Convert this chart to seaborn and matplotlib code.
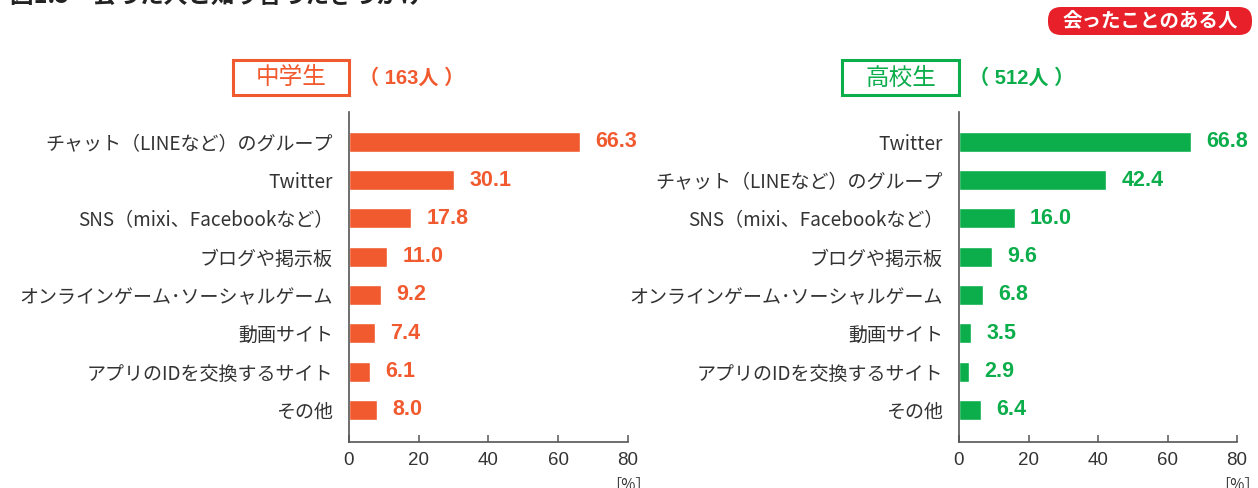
import matplotlib
matplotlib.use("Agg")
import matplotlib.pyplot as plt
from matplotlib.patches import FancyBboxPatch, Rectangle
import seaborn as sns
import pandas as pd

# ---- data ----
jh_categories = ["チャット（LINEなど）のグループ", "Twitter", "SNS（mixi、Facebookなど）", "ブログや掲示板",
                 "オンラインゲーム･ソーシャルゲーム", "動画サイト", "アプリのIDを交換するサイト", "その他"]
jh_values = [66.3, 30.1, 17.8, 11.0, 9.2, 7.4, 6.1, 8.0]
hs_categories = ["Twitter", "チャット（LINEなど）のグループ", "SNS（mixi、Facebookなど）", "ブログや掲示板",
                 "オンラインゲーム･ソーシャルゲーム", "動画サイト", "アプリのIDを交換するサイト", "その他"]
hs_values = [66.8, 42.4, 16.0, 9.6, 6.8, 3.5, 2.9, 6.4]
x_ticks = [0, 20, 40, 60, 80]
groups = ["中学生", "高校生"]
group_counts = ["（ 163人 ）", "（ 512人 ）"]
badge_text = "会ったことのある人"
title_text = "図1.5　会った人と知り合ったきっかけ"

ORANGE = "#F15A2F"
GREEN = "#0CAD4B"
RED = "#E8202A"
TXT = "#333333"
NUMFONT = ["Liberation Sans", "Noto Sans CJK JP", "DejaVu Sans"]

sns.set_theme(style="white")
plt.rcParams["font.family"] = ["Noto Sans CJK JP", "DejaVu Sans"]

fig = plt.figure(figsize=(12.58, 4.88), dpi=100)
W, H = 1258, 488

# overlay in pixel coordinates for decorations
ov = fig.add_axes([0, 0, 1, 1], zorder=-1)
ov.set_xlim(0, W)
ov.set_ylim(H, 0)
ov.axis("off")

def axes_rect(x0, x1, ytop, ybot):
    return [x0 / W, (H - ybot) / H, (x1 - x0) / W, (ybot - ytop) / H]

panels = [
    (axes_rect(349, 628, 112, 442), jh_categories, jh_values, ORANGE, groups[0], group_counts[0], (233, 349)),
    (axes_rect(959, 1237, 112, 442), hs_categories, hs_values, GREEN, groups[1], group_counts[1], (842, 959)),
]

for rect, cats, vals, col, gname, gcount, (bx0, bx1) in panels:
    ax = fig.add_axes(rect)
    df = pd.DataFrame({"cat": cats, "val": vals})
    sns.barplot(data=df, y="cat", x="val", orient="h", color=col, saturation=1,
                width=0.52, ax=ax)
    ax.set_xlim(0, 80)
    ax.set_ylim(7.84, -0.78)
    ax.set_xticks(x_ticks)
    ax.set_xticklabels([str(t) for t in x_ticks], family=NUMFONT)
    ax.set_xlabel("")
    ax.set_ylabel("")
    for s in ["top", "right"]:
        ax.spines[s].set_visible(False)
    for s in ["left", "bottom"]:
        ax.spines[s].set_color("#555555")
        ax.spines[s].set_linewidth(1.2)
    ax.tick_params(axis="x", direction="in", length=5, width=1.1, color="#555555",
                   labelsize=13.5, labelcolor=TXT, pad=7, bottom=True)
    ax.tick_params(axis="y", length=0, labelsize=13.7, labelcolor=TXT, pad=11.5)
    for i, v in enumerate(vals):
        ax.annotate(f"{v:.1f}", xy=(v, i), xytext=(11, 0), textcoords="offset points",
                    ha="left", va="center", fontsize=15.5, fontweight="bold", color=col,
                    family=NUMFONT, annotation_clip=False)
    # [%] unit label
    ax.annotate("［%］", xy=(80, 0), xycoords=("data", "axes fraction"), xytext=(0, -31),
                textcoords="offset points", ha="center", va="center", fontsize=11,
                color=TXT, annotation_clip=False)
    # group box
    ov.add_patch(Rectangle((bx0, 60), bx1 - bx0, 35, fill=False, edgecolor=col, linewidth=2.2))
    ov.text((bx0 + bx1) / 2, 78, gname, ha="center", va="center", fontsize=17, color=col)
    ov.text(bx1 + 10, 78, gcount, ha="left", va="center", fontsize=14.5,
            fontweight="bold", color=col, family=NUMFONT)

# badge
ov.add_patch(FancyBboxPatch((1048, 7), 204, 28, boxstyle="round,pad=0,rounding_size=13",
                            facecolor=RED, edgecolor="none"))
ov.text(1150, 21, badge_text, ha="center", va="center", fontsize=14,
        fontweight="bold", color="white")

# clipped title
ov.text(10, -4, title_text, ha="left", va="center", fontsize=17,
        fontweight="bold", color="#222222", clip_on=False)

fig.savefig("out.png", dpi=100)
